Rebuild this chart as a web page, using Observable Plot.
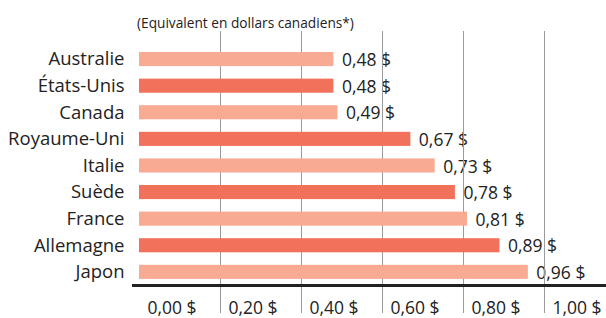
<!DOCTYPE html>
<html>
<head>
<meta charset="utf-8">
<script src="https://cdn.jsdelivr.net/npm/d3@7"></script>
<script src="https://cdn.jsdelivr.net/npm/@observablehq/plot@0.6"></script>
<style>
  html, body { margin: 0; padding: 0; background: #fff; }
  body { width: 606px; height: 318px; overflow: hidden; font-family: "Open Sans", "Noto Sans", sans-serif; color: #222; }
  #sub { height: 30px; position: relative; }
  #sub span { position: absolute; left: 137px; top: 15.5px; font-size: 13.7px; line-height: 1; white-space: nowrap; }
  svg { display: block; }
</style>
</head>
<body>
<div id="sub"><span>(Equivalent en dollars canadiens*)</span></div>
<div id="chart"></div>
<script>
const countries = ["Australie", "États-Unis", "Canada", "Royaume-Uni", "Italie", "Suède", "France", "Allemagne", "Japon"];
const values = [0.48, 0.48, 0.49, 0.67, 0.73, 0.78, 0.81, 0.89, 0.96];
const shades = ["clair", "foncé", "clair", "foncé", "clair", "foncé", "clair", "foncé", "clair"];
const tickValues = [0, 0.2, 0.4, 0.6, 0.8, 1.0];
const gridValues = [0.2, 0.4, 0.6, 0.8, 1.0];

const data = countries.map((c, i) => ({country: c, value: values[i], shade: shades[i]}));
const fmt = v => d3.format(".2f")(v).replace(".", ",") + " $";

const chart = Plot.plot({
  width: 606,
  height: 288,
  marginTop: 1,
  marginBottom: 33,
  marginLeft: 133,
  marginRight: 0,
  style: {fontFamily: "'Open Sans', 'Noto Sans', sans-serif", color: "#222", background: "#fff"},
  x: {domain: [-0.0148, 1.153], axis: null},
  y: {domain: countries, paddingInner: 0.47, paddingOuter: 0.51, align: 0.775, round: false, axis: null},
  color: {domain: ["clair", "foncé"], range: ["#F8AA93", "#F2715B"]},
  marks: [
    Plot.axisY({anchor: "left", tickSize: 0, tickPadding: 9, fontSize: 18.5, fill: "#222", label: null}),
    Plot.axisX(tickValues, {anchor: "bottom", tickSize: 0, tickPadding: 16, textAnchor: "start", dx: 8, fontSize: 17.5, fill: "#222", tickFormat: fmt, label: null}),
    Plot.text(data, {x: "value", y: "country", text: d => fmt(d.value), textAnchor: "start", dx: 8, dy: 1, fontSize: 17.5, fill: "#222"}),
    Plot.ruleX(gridValues, {stroke: "#9a9a9a", strokeWidth: 1, insetBottom: -28}),
    Plot.barX(data, {x: "value", y: "country", fill: "shade"}),
    Plot.frame({anchor: "bottom", stroke: "#222", strokeWidth: 3})
  ]
});
document.getElementById("chart").appendChild(chart);
</script>
</body>
</html>
